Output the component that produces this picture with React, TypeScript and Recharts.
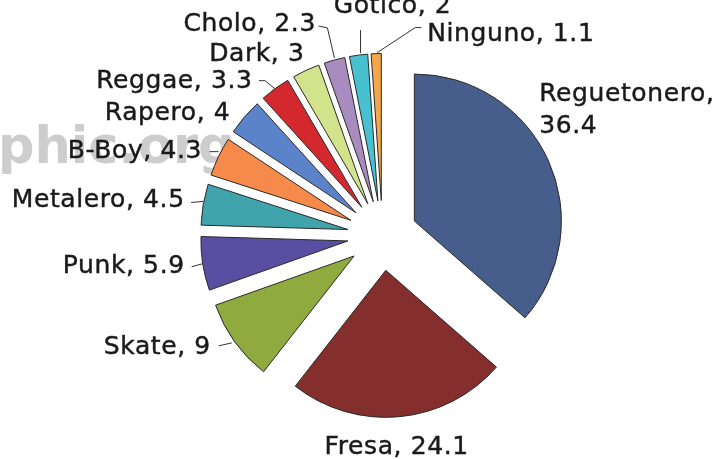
import { PieChart, Pie, Cell, Sector } from 'recharts'

const categories = [
  'Reguetonero',
  'Fresa',
  'Skate',
  'Punk',
  'Metalero',
  'B-Boy',
  'Rapero',
  'Reggae',
  'Dark',
  'Cholo',
  'Gotico',
  'Ninguno',
]
const values = [36.4, 24.1, 9, 5.9, 4.5, 4.3, 4, 3.3, 3, 2.3, 2, 1.1]
const colors = [
  '#475d8b',
  '#842e2e',
  '#8fab3f',
  '#5a4ea3',
  '#41a4ad',
  '#f68a4b',
  '#5b83c9',
  '#d3282e',
  '#d3e38b',
  '#a98cbf',
  '#47c0d0',
  '#f6a64b',
]

const data = categories.map((name, i) => ({ name, value: values[i] }))

const EXPLODE = 35
const RAD = Math.PI / 180
const FONT = '"DejaVu Sans", sans-serif'

// where each label sits relative to the outer middle of its (exploded) slice
type Place = {
  dx: number
  dy: number
  anchor: 'start' | 'middle' | 'end'
  leader?: [number, number][]
  split?: boolean
}
const labelPlace: Record<string, Place> = {
  Reguetonero: { dx: -9, dy: -59, anchor: 'start', split: true },
  Fresa: { dx: -3, dy: 37, anchor: 'middle' },
  Skate: { dx: -24, dy: 12, anchor: 'end', leader: [[-3, 1], [-16, 4]] },
  Punk: { dx: -18, dy: 9.5, anchor: 'end', leader: [[0, 0], [-11, 3]] },
  Metalero: { dx: -18.5, dy: 2.5, anchor: 'end', leader: [[0, -3], [-12, -2]] },
  'B-Boy': { dx: -16.5, dy: 1.5, anchor: 'end', leader: [[0, -5], [-9, -5]] },
  Rapero: { dx: -14, dy: 3, anchor: 'end' },
  Reggae: { dx: -22.5, dy: -1, anchor: 'end', leader: [[0, 0], [-10, -8], [-16, -8]] },
  Dark: { dx: -1.5, dy: -9, anchor: 'end' },
  Cholo: { dx: -18.5, dy: -29, anchor: 'end', leader: [[0, -2], [-7, -32], [-16, -34]] },
  Gotico: { dx: 34, dy: -42, anchor: 'middle', leader: [[2, -2], [2, -25]] },
  Ninguno: { dx: 51, dy: -12.5, anchor: 'start', leader: [[1, -1], [39, -26], [45, -26]] },
}

function explodeShift(midAngle: number) {
  return {
    x: EXPLODE * Math.cos(-midAngle * RAD),
    y: EXPLODE * Math.sin(-midAngle * RAD),
  }
}

function ExplodedSector(props: any) {
  const s = explodeShift(props.midAngle)
  return (
    <Sector
      {...props}
      cx={props.cx + s.x}
      cy={props.cy + s.y}
      stroke="#2a2a2a"
      strokeWidth={1}
    />
  )
}

const textStyle = {
  fill: '#1a1a1a',
  stroke: '#1a1a1a',
  strokeWidth: 0.45,
  fontSize: 25,
  letterSpacing: 0.6,
  fontFamily: FONT,
}

function renderLabel(props: any) {
  const { cx, cy, midAngle, outerRadius, name, value } = props
  const place = labelPlace[name]
  if (!place) return null
  const s = explodeShift(midAngle)
  const px = cx + s.x + outerRadius * Math.cos(-midAngle * RAD)
  const py = cy + s.y + outerRadius * Math.sin(-midAngle * RAD)
  const tx = px + place.dx
  const ty = py + place.dy
  const pts = place.leader
    ? place.leader.map(([x, y]) => `${px + x},${py + y}`).join(' ')
    : null
  return (
    <g>
      {pts && <polyline points={pts} fill="none" stroke="#333" strokeWidth={1} />}
      {place.split ? (
        <text x={tx} y={ty} textAnchor={place.anchor} {...textStyle}>
          <tspan x={tx}>{name},</tspan>
          <tspan x={tx} dy={32}>{value}</tspan>
        </text>
      ) : (
        <text x={tx} y={ty} textAnchor={place.anchor} {...textStyle}>
          {`${name}, ${value}`}
        </text>
      )}
    </g>
  )
}

export default function App() {
  return (
    <div style={{ position: 'fixed', left: 0, top: 0, width: 720, height: 459, background: '#fff' }}>
      <div
        style={{
          position: 'absolute',
          left: -2,
          top: 116,
          fontFamily: FONT,
          fontWeight: 'bold',
          fontSize: 51,
          color: '#cdcdcd',
          lineHeight: '60px',
          whiteSpace: 'nowrap',
        }}
      >
        phic.org
      </div>
      <div style={{ position: 'absolute', left: 0, top: 0 }}>
        <PieChart width={720} height={459}>
          <Pie
            data={data}
            dataKey="value"
            nameKey="name"
            cx={377.5}
            cy={230.5}
            outerRadius={147}
            startAngle={90}
            endAngle={-270}
            stroke="#2a2a2a"
            shape={ExplodedSector}
            label={renderLabel}
            labelLine={false}
            isAnimationActive={false}
          >
            {data.map((d, i) => (
              <Cell key={d.name} fill={colors[i]} />
            ))}
          </Pie>
        </PieChart>
      </div>
    </div>
  )
}
